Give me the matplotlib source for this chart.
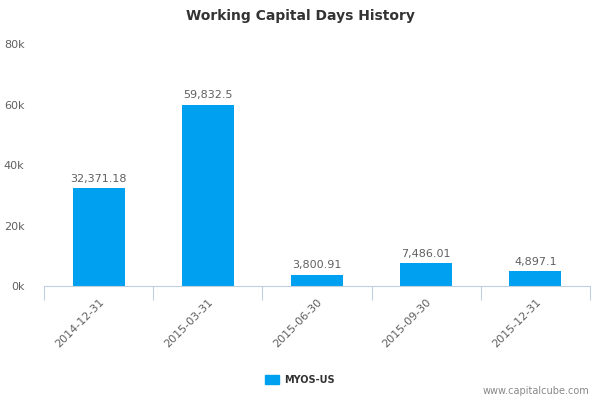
import numpy as np
import matplotlib.pyplot as plt
from matplotlib.ticker import FuncFormatter
from matplotlib.patches import Patch

# data
dates = ['2014-12-31', '2015-03-31', '2015-06-30', '2015-09-30', '2015-12-31']
values = [32371.18, 59832.5, 3800.91, 7486.01, 4897.1]
labels = ['32,371.18', '59,832.5', '3,800.91', '7,486.01', '4,897.1']
series_name = 'MYOS-US'

bar_color = '#00a0f0'
axis_color = '#c0d0e0'
text_color = '#606060'

fig = plt.figure(figsize=(6, 4), dpi=100)
ax = fig.add_axes([44 / 600, 114 / 400, 546 / 600, 242 / 400])

x = np.arange(len(dates))
ax.bar(x, values, width=0.476, color=bar_color, zorder=2)

for xi, v, lab in zip(x, values, labels):
    ax.text(xi, v + 1500, lab, ha='center', va='bottom', fontsize=8, color=text_color)

ax.set_xlim(-0.5, len(dates) - 0.5)
ax.set_ylim(0, 80000)
ax.set_yticks([0, 20000, 40000, 60000, 80000])
ax.yaxis.set_major_formatter(FuncFormatter(lambda v, p: f'{int(v / 1000)}k'))

# category boundaries as tick marks
ax.set_xticks(np.arange(-0.5, len(dates)), minor=False)
ax.set_xticklabels([])
ax.set_xticks(x, minor=True)
ax.set_xticklabels(dates, minor=True, rotation=45, ha='right', rotation_mode='anchor',
                   fontsize=8, color=text_color)
ax.tick_params(axis='x', which='major', length=10, color=axis_color)
ax.tick_params(axis='x', which='minor', length=0, pad=8)
ax.tick_params(axis='y', length=0, labelsize=8, labelcolor=text_color, pad=14)

for s in ['top', 'right', 'left']:
    ax.spines[s].set_visible(False)
ax.spines['bottom'].set_color(axis_color)

fig.text(0.5, 0.96, 'Working Capital Days History', ha='center', va='center',
         fontsize=10, fontweight='bold', color='#333333')

fig.legend(handles=[Patch(color=bar_color, label=series_name)], loc='center',
           bbox_to_anchor=(0.5, 0.05), frameon=False, handlelength=1.4, handleheight=1.0,
           handletextpad=0.5, prop={'size': 7, 'weight': 'bold'}, labelcolor='#333333')

fig.text(0.983, 0.01, 'www.capitalcube.com', ha='right', va='bottom', fontsize=7, color='#888888')

fig.savefig('out.png', dpi=100)
